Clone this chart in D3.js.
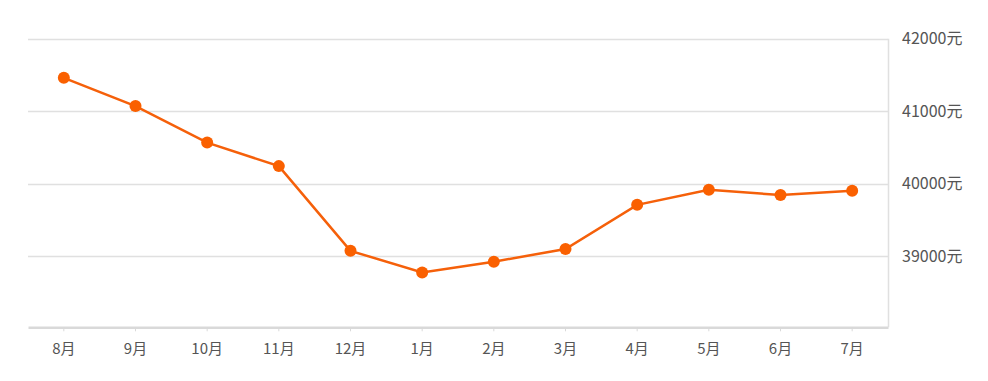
<!DOCTYPE html>
<html>
<head>
<meta charset="utf-8">
<script src="https://cdn.jsdelivr.net/npm/d3@7"></script>
<style>
  body { margin: 0; background: #fff; }
  svg text { font-family: "Noto Sans CJK SC", "Noto Sans", sans-serif; fill: #555; font-size: 16px; }
</style>
</head>
<body>
<div id="chart"></div>
<script>
var w = 988;
var h = 381;

// months and average price (元/㎡)
var months = ["8月", "9月", "10月", "11月", "12月", "1月", "2月", "3月", "4月", "5月", "6月", "7月"];
var prices = [41460, 41070, 40565, 40240, 39070, 38770, 38920, 39095, 39705, 39915, 39840, 39900];
var yTicks = [39000, 40000, 41000, 42000];

var plotLeft = 28, plotRight = 888, plotTop = 38.7, plotBottom = 328.3;

var svg = d3.select("#chart").append("svg")
  .attr("width", w)
  .attr("height", h);

var xScale = d3.scaleBand()
  .domain(months)
  .range([plotLeft, plotRight]);

var yScale = d3.scaleLinear()
  .domain([38000, 42000])
  .range([plotBottom, plotTop]);

// gridlines
svg.append("g")
  .selectAll("line")
  .data(yTicks)
  .join("line")
  .attr("x1", plotLeft)
  .attr("x2", plotRight)
  .attr("y1", function(d) { return Math.round(yScale(d)) + 0.5; })
  .attr("y2", function(d) { return Math.round(yScale(d)) + 0.5; })
  .attr("stroke", "#e0e0e0")
  .attr("stroke-width", 1.5);

// right axis line
svg.append("line")
  .attr("x1", plotRight + 0.5)
  .attr("x2", plotRight + 0.5)
  .attr("y1", yScale(42000))
  .attr("y2", plotBottom - 1)
  .attr("stroke", "#e0e0e0")
  .attr("stroke-width", 1.5);

// y labels on the right
svg.append("g")
  .selectAll("text")
  .data(yTicks)
  .join("text")
  .attr("x", 902)
  .attr("y", function(d) { return yScale(d); })
  .attr("dy", "0.35em")
  .text(function(d) { return d + "元"; });

// x axis
var xAxis = d3.axisBottom(xScale)
  .tickSize(4)
  .tickPadding(12)
  .tickSizeOuter(0);

var gx = svg.append("g")
  .attr("transform", "translate(0," + (plotBottom - 1) + ")")
  .call(xAxis);
gx.select(".domain").attr("stroke", "#d9d9d9").attr("stroke-width", 2.5);
gx.selectAll(".tick line").attr("stroke", "#d9d9d9");
gx.selectAll(".tick text").style("font-size", "15px").attr("fill", "#555");

// line
var line = d3.line()
  .x(function(d, i) { return xScale(months[i]) + xScale.bandwidth() / 2; })
  .y(function(d) { return yScale(d); });

svg.append("path")
  .datum(prices)
  .attr("fill", "none")
  .attr("stroke", "#f5600a")
  .attr("stroke-width", 2.5)
  .attr("d", line);

svg.append("g")
  .selectAll("circle")
  .data(prices)
  .join("circle")
  .attr("cx", function(d, i) { return xScale(months[i]) + xScale.bandwidth() / 2; })
  .attr("cy", function(d) { return yScale(d); })
  .attr("r", 6)
  .attr("fill", "#fa6000");
</script>
</body>
</html>
